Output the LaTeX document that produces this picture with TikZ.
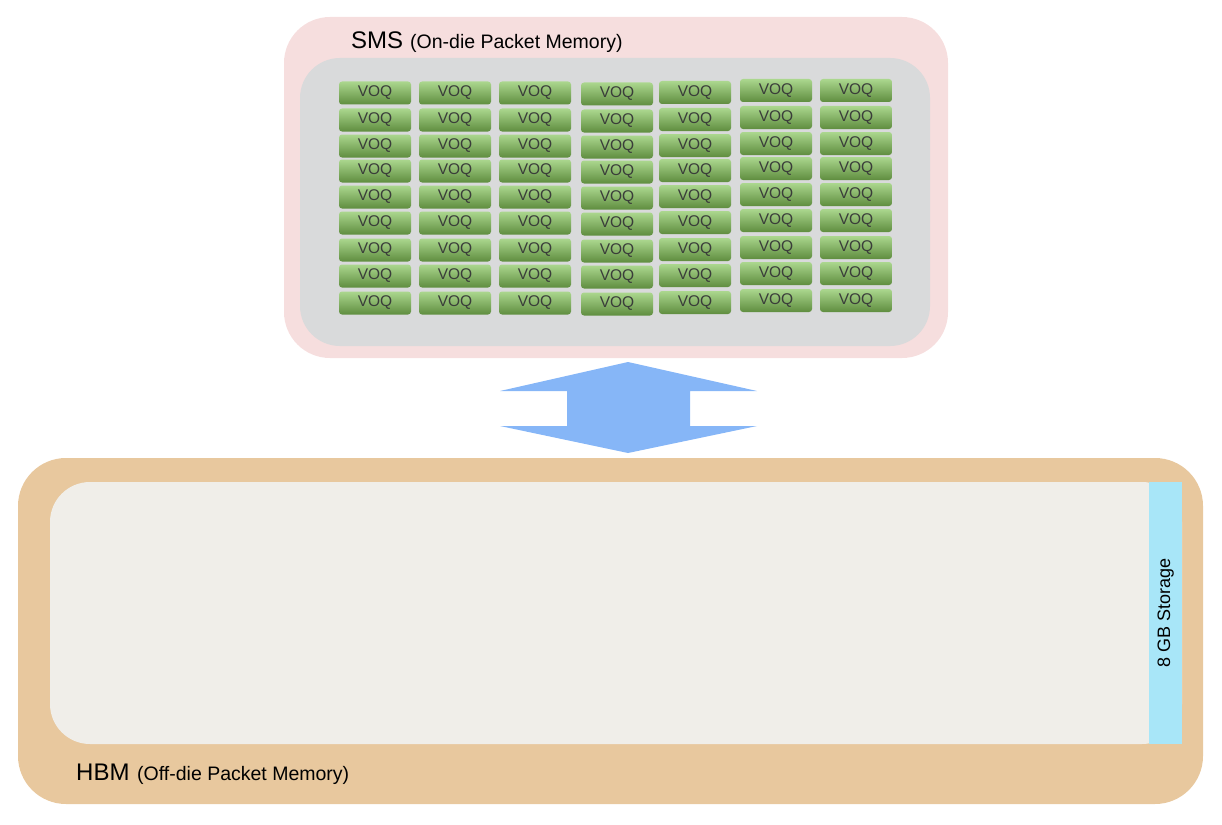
\documentclass[tikz,border=0pt]{standalone}
\usepackage{fontspec}
\setmainfont{Liberation Sans}
\definecolor{smspink}{HTML}{F6DEDE}
\definecolor{smsgray}{HTML}{D9DADB}
\definecolor{hbmtan}{HTML}{E8C89E}
\definecolor{hbmlight}{HTML}{F0EEE9}
\definecolor{storblue}{HTML}{A8E6F8}
\definecolor{arrowblue}{HTML}{86B6F7}
\definecolor{voqtop}{HTML}{ABD78E}
\definecolor{voqbot}{HTML}{5F8D3F}
\definecolor{voqtext}{HTML}{3A3D3A}
\tikzset{
  voq/.style={rectangle, rounded corners=3pt, minimum width=72pt, minimum height=23pt,
    inner sep=0pt, top color=voqtop, bottom color=voqbot, text=voqtext,
    font=\fontsize{15.5}{15.5}\selectfont},
  title/.style={anchor=base west, inner sep=0pt, font=\fontsize{24}{24}\selectfont},
  subtitle/.style={anchor=base west, inner sep=0pt, font=\fontsize{19.5}{19.5}\selectfont},
}
\begin{document}
\begin{tikzpicture}[x=1pt,y=-1pt]
\useasboundingbox (0,0) rectangle (1222,824);
% SMS
\fill[smspink, rounded corners=46pt] (284,17) rectangle (948,358);
\fill[smsgray, rounded corners=40pt] (300,58) rectangle (930,346);
\node[title] (smst) at (351,49) {SMS};
\node[subtitle] (smss) at (410,49) {(On-die Packet Memory)};
% VOQ grid
\foreach \cx/\dy [count=\c] in {375/0, 455/0, 535/0, 617/1, 695/-0.5, 776/-2.5, 856/-2.5}{
  \foreach \ry [count=\r] in {93,120,146,171,197,223,250,276,303}{
    \node[voq] (voq-\c-\r) at (\cx,\ry+\dy) {VOQ};
  }
}
% arrow
\fill[arrowblue] (628,362) -- (757,391) -- (690,391) -- (690,426) -- (757,426)
  -- (628,453) -- (500,426) -- (567,426) -- (567,391) -- (500,391) -- cycle;
% HBM
\fill[hbmtan, rounded corners=48pt] (18,458) rectangle (1203,804);
\fill[hbmlight, rounded corners=40pt] (50,482) rectangle (1182,744);
\node[fill=storblue, minimum width=33pt, minimum height=262pt, inner sep=0pt, anchor=north west] (stor) at (1149,482) {};
\node[rotate=90, font=\fontsize{18}{18}\selectfont] (storl) at (stor.center) {8 GB Storage};
\node[title] (hbmt) at (76,780) {HBM};
\node[subtitle] (hbms) at (137,780) {(Off-die Packet Memory)};
\end{tikzpicture}
\end{document}
